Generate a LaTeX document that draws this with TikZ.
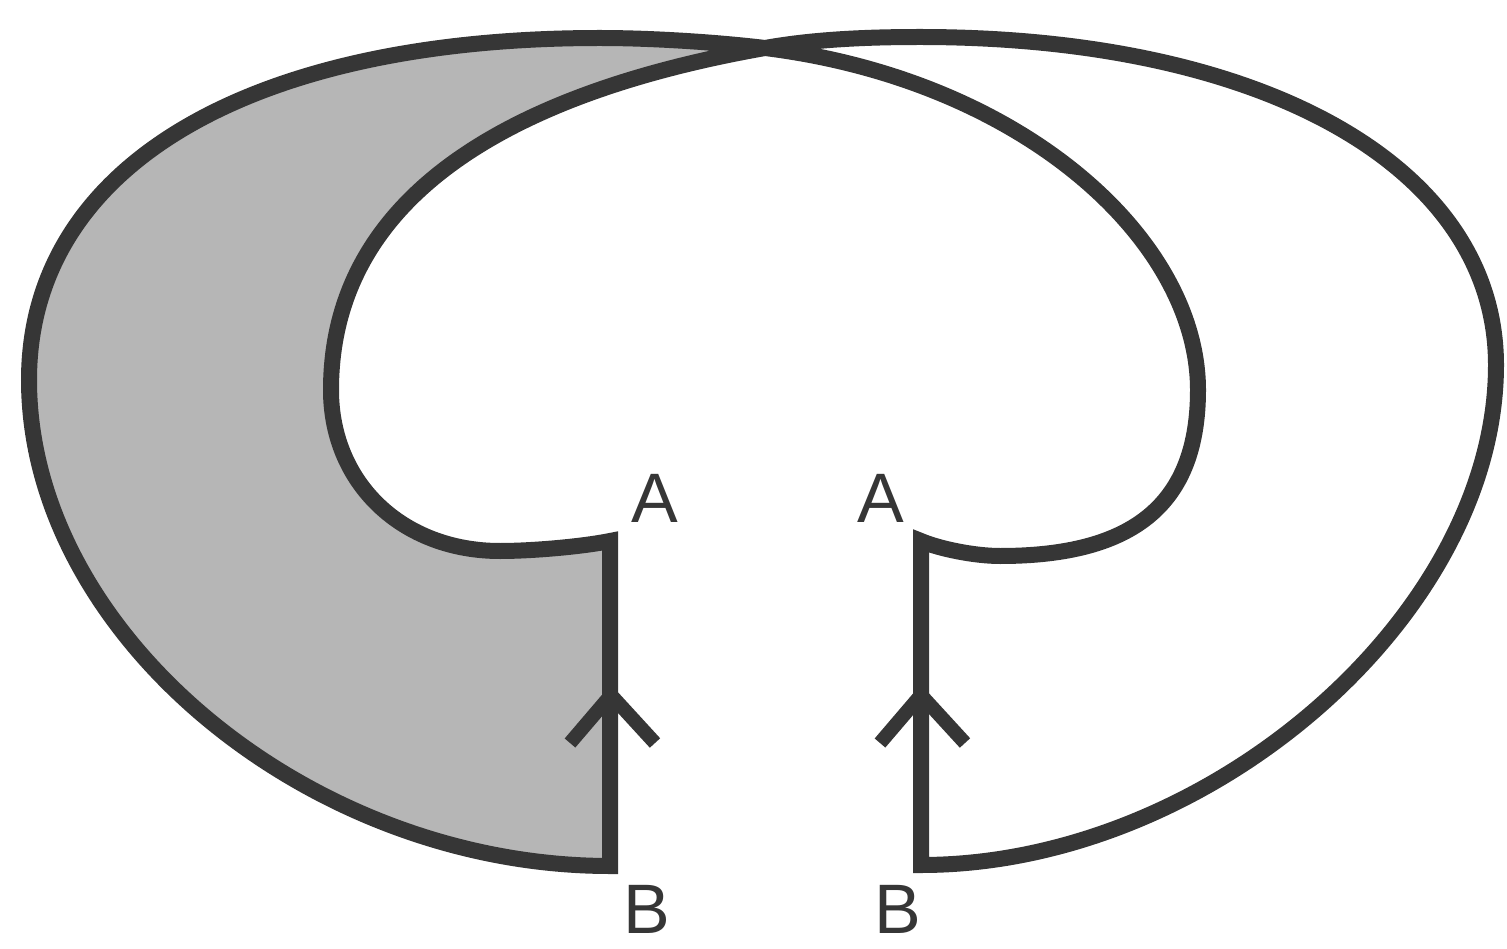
\documentclass[tikz,border=0pt]{standalone}
\usepackage{fontspec}
\setmainfont{Liberation Sans}
\definecolor{ink}{HTML}{363636}
\definecolor{greyfill}{HTML}{B6B6B6}
\begin{document}
\begin{tikzpicture}[x=1pt,y=-1pt,
  outline/.style={draw=ink,line width=16pt,line join=miter},
  chevron/.style={draw=ink,line width=14pt,line join=miter},
  lbl/.style={text=ink,font=\fontsize{70}{74}\selectfont,inner sep=0pt}]
\useasboundingbox (0,0) rectangle (1507,949);
% key points
\coordinate (AL) at (610,541);
\coordinate (BL) at (610,866);
\coordinate (AR) at (921,541);
\coordinate (BR) at (921,865);
\coordinate (X)  at (765,48);
\coordinate (LlowL) at (500,551);
\coordinate (LmidL) at (331,390);
\coordinate (TopR) at (920,37);
\coordinate (MidR) at (1496,365);
\coordinate (LlowR) at (1000,556);
\coordinate (LmidR) at (1198,390);
\coordinate (TopL) at (600,38);
\coordinate (MidL) at (29,380);
% shaded crescent: left half of the closed outline, even-odd filled
\begin{scope}
\clip (0,0) rectangle (765,949);
\fill[greyfill,even odd rule]
  (AL) .. controls (580,547) and (530,551) .. (LlowL)
  .. controls (402,551) and (331,483) .. (LmidL)
  .. controls (331,200) and (504,94) .. (X)
  .. controls (815,39) and (870,37) .. (TopR)
  .. controls (1266,37) and (1496,168) .. (MidR)
  .. controls (1496,615) and (1209,865) .. (BR)
  -- (AR)
  .. controls (940,549) and (975,556) .. (LlowR)
  .. controls (1135,556) and (1198,503) .. (LmidR)
  .. controls (1198,240) and (1023,80) .. (X)
  .. controls (715,42) and (650,38) .. (TopL)
  .. controls (246,38) and (29,168) .. (MidL)
  .. controls (29,633) and (308,866) .. (BL)
  -- cycle;
\end{scope}
% the closed outline: two strands crossing at the top
\draw[outline]
  (AL) .. controls (580,547) and (530,551) .. (LlowL)
  .. controls (402,551) and (331,483) .. (LmidL)
  .. controls (331,200) and (504,94) .. (X)
  .. controls (815,39) and (870,37) .. (TopR)
  .. controls (1266,37) and (1496,168) .. (MidR)
  .. controls (1496,615) and (1209,865) .. (BR)
  -- (AR)
  .. controls (940,549) and (975,556) .. (LlowR)
  .. controls (1135,556) and (1198,503) .. (LmidR)
  .. controls (1198,240) and (1023,80) .. (X)
  .. controls (715,42) and (650,38) .. (TopL)
  .. controls (246,38) and (29,168) .. (MidL)
  .. controls (29,633) and (308,866) .. (BL)
  -- cycle;
% direction chevrons
\coordinate (cl) at (611,695);
\coordinate (cr) at (921,695);
\draw[chevron] ([shift={(-41,48)}]cl) -- (cl) -- ([shift={(44,48)}]cl);
\draw[chevron] ([shift={(-41,48)}]cr) -- (cr) -- ([shift={(44,48)}]cr);
% labels
\node[lbl] (labAL) at (655,498) {A};
\node[lbl] (labAR) at (881,498) {A};
\node[lbl] (labBL) at (647,909) {B};
\node[lbl] (labBR) at (898,909) {B};
\end{tikzpicture}
\end{document}
